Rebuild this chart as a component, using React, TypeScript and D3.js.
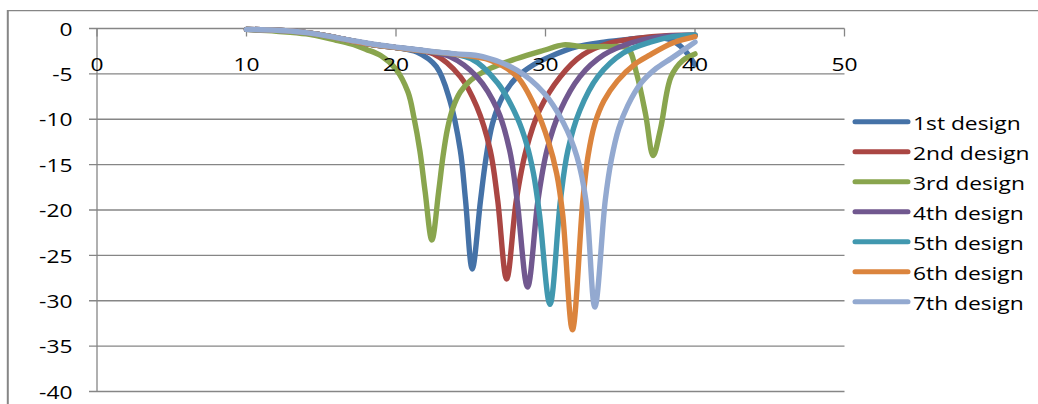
import React from "react";
import * as d3 from "d3";

// x tick labels and y tick labels
const xTicks = [0, 10, 20, 30, 40, 50];
const yTicks = [0, -5, -10, -15, -20, -25, -30, -35, -40];

const seriesNames = ["1st design", "2nd design", "3rd design", "4th design", "5th design", "6th design", "7th design"];
const seriesColors = ["#4572A7", "#AA4643", "#89A54E", "#71588F", "#4198AF", "#DB843D", "#93A9D0"];

// [frequency, value] points
const design1: [number, number][] = [
  [10, -0.1], [12, -0.2], [14, -0.45], [15, -0.7], [16, -1.0], [17, -1.35], [18, -1.65], [19, -1.9], [20, -2.1],
  [21.4, -2.6], [22.7, -4.2], [23.6, -7.9], [24.3, -13.4], [24.65, -18.9], [25.1, -26.5], [25.65, -19.0],
  [26.0, -14.5], [26.45, -10.5], [27.1, -7.6], [28.0, -5.5], [29.2, -4.0], [30.3, -3.1], [32.1, -2.0],
  [33.9, -1.5], [35.5, -1.2], [37, -1.0], [38.3, -1.2], [39.2, -2.2], [40, -4.0],
];
const design2: [number, number][] = [
  [10, -0.1], [12, -0.2], [14, -0.45], [15, -0.7], [16, -1.0], [17, -1.35], [18, -1.65], [19, -1.9], [20, -2.1],
  [21, -2.3], [22.5, -2.8], [24.3, -5.3], [25.4, -8.6], [26.3, -13.4], [26.8, -18.9], [27.4, -27.6],
  [28.05, -18.9], [28.7, -13.4], [29.6, -9.0], [31, -5.3], [32.5, -2.9], [34.3, -1.6], [36.1, -1.1],
  [38.1, -0.8], [40, -0.75],
];
const design3: [number, number][] = [
  [10, -0.1], [12, -0.3], [14, -0.6], [16, -1.3], [17, -1.7], [18, -2.3], [19, -3.0], [20, -4.5], [20.8, -7.0],
  [21.2, -9.8], [21.6, -13.5], [21.95, -18.0], [22.4, -23.3], [22.85, -18.0], [23.15, -14.0], [23.45, -11.0],
  [23.8, -8.8], [24.3, -7.0], [25.0, -5.7], [26.3, -4.4], [28.1, -3.3], [29.9, -2.4], [31.2, -1.8], [32.5, -2.0],
  [34.3, -2.0], [35.5, -2.2], [36.1, -5.0], [36.7, -9.5], [37.2, -14.0], [37.7, -11.0], [38.4, -5.3],
  [39.2, -3.5], [40, -2.8],
];
const design4: [number, number][] = [
  [10, -0.1], [12, -0.2], [14, -0.45], [15, -0.7], [16, -1.0], [17, -1.35], [18, -1.65], [19, -1.9], [20, -2.1],
  [22, -2.5], [23.6, -3.1], [25.4, -5.3], [26.8, -9.0], [27.6, -13.4], [28.1, -18.9], [28.8, -28.5],
  [29.5, -18.9], [30.1, -13.4], [31, -9.0], [32.3, -5.3], [33.9, -2.9], [35.7, -1.6], [37.5, -0.95],
  [40, -0.75],
];
const design5: [number, number][] = [
  [10, -0.1], [12, -0.2], [14, -0.45], [15, -0.7], [16, -1.0], [17, -1.35], [18, -1.65], [19, -1.9], [20, -2.1],
  [22, -2.5], [25, -3.3], [26.8, -6.0], [28.1, -9.8], [28.75, -12.8], [29.2, -16.0], [29.6, -20.5], [30.3, -30.4],
  [31, -18.9], [31.5, -13.4], [32.3, -9.0], [33.5, -5.3], [35.2, -2.7], [37, -1.5], [38.5, -0.9],
  [40, -0.7],
];
const design6: [number, number][] = [
  [10, -0.1], [12, -0.2], [14, -0.45], [15, -0.7], [16, -1.0], [17, -1.35], [18, -1.65], [19, -1.9], [20, -2.1],
  [22, -2.5], [24, -2.85], [26.3, -3.5], [28.1, -5.3], [29.4, -9.0], [30.2, -12.5], [30.75, -16.0], [31.15, -20.5],
  [31.8, -33.2], [32.5, -18.9], [32.85, -14.0], [33.3, -10.5], [33.9, -8.0], [34.8, -5.8], [36.0, -3.9],
  [37, -2.9], [38.5, -1.6], [40, -0.9],
];
const design7: [number, number][] = [
  [10, -0.1], [12, -0.2], [14, -0.45], [15, -0.7], [16, -1.0], [17, -1.3], [18, -1.6], [19, -1.85], [20, -2.05],
  [22, -2.45], [24, -2.8], [25.8, -3.1], [28.1, -4.6], [29.9, -7.1], [31.2, -10.4], [32.1, -14.1],
  [32.7, -18.9], [33.3, -30.7], [34, -18.9], [34.4, -14.5], [34.9, -11.0], [35.5, -8.5], [36.4, -6.0],
  [37.4, -4.4], [38.4, -3.3], [39.2, -2.4], [40, -1.5],
];
const allSeries = [design1, design2, design3, design4, design5, design6, design7];

const W = 1038;
const H = 404;
const GRID = "#868686";
const FONT = "'Open Sans', 'Noto Sans', sans-serif";
const FS = 19;
const SX = 1.2;

export default function App() {
  const x = d3.scaleLinear().domain([0, 50]).range([97, 844.5]);
  const y = d3.scaleLinear().domain([-40, 0]).range([391.5, 28.5]);
  const line = d3
    .line<[number, number]>()
    .x((d) => x(d[0]))
    .y((d) => y(d[1]))
    .curve(d3.curveCatmullRom.alpha(0.5));

  return (
    <svg
      width={W}
      height={H}
      style={{ position: "absolute", left: 0, top: 0, background: "#fff" }}
      fontFamily={FONT}
    >
      <rect x={0} y={0} width={W} height={H} fill="#fff" />
      {/* chart frame */}
      <line x1={7.8} x2={7.8} y1={10} y2={H + 5} stroke={GRID} strokeWidth={2} />
      <line x1={7} x2={W + 5} y1={10.6} y2={10.6} stroke={GRID} strokeWidth={1.4} />

      {/* horizontal gridlines with left ticks */}
      {yTicks.map((t) => (
        <line key={"g" + t} x1={89} x2={x(50)} y1={y(t)} y2={y(t)} stroke={GRID} strokeWidth={1.3} />
      ))}
      {/* y axis line */}
      <line x1={x(0)} x2={x(0)} y1={y(0)} y2={y(-40)} stroke={GRID} strokeWidth={1.3} />
      {/* x ticks */}
      {xTicks.map((t) => (
        <line key={"xt" + t} x1={x(t)} x2={x(t)} y1={y(0)} y2={y(0) + 8} stroke={GRID} strokeWidth={1.3} />
      ))}

      {/* series */}
      {allSeries.map((s, i) => (
        <path
          key={"s" + i}
          d={line(s) || ""}
          fill="none"
          stroke={seriesColors[i]}
          strokeWidth={5.4}
          strokeLinecap="round"
          strokeLinejoin="round"
        />
      ))}

      {/* y labels */}
      {yTicks.map((t) => (
        <text
          key={"yl" + t}
          transform={`translate(72.5,${y(t) + 7.2}) scale(${SX},1)`}
          textAnchor="end"
          fontSize={FS}
          fill="#000"
        >
          {t}
        </text>
      ))}
      {/* x labels */}
      {xTicks.map((t) => (
        <text
          key={"xl" + t}
          transform={`translate(${x(t)},71) scale(${SX},1)`}
          textAnchor="middle"
          fontSize={FS}
          fill="#000"
        >
          {t}
        </text>
      ))}

      {/* legend */}
      {seriesNames.map((n, i) => {
        const ly = 121.7 + i * 30;
        return (
          <g key={"lg" + i}>
            <line x1={855} x2={908} y1={ly} y2={ly} stroke={seriesColors[i]} strokeWidth={5} strokeLinecap="round" />
            <text transform={`translate(913,${ly + 7.8}) scale(${SX},1)`} fontSize={FS} fill="#000">
              {n}
            </text>
          </g>
        );
      })}
    </svg>
  );
}
